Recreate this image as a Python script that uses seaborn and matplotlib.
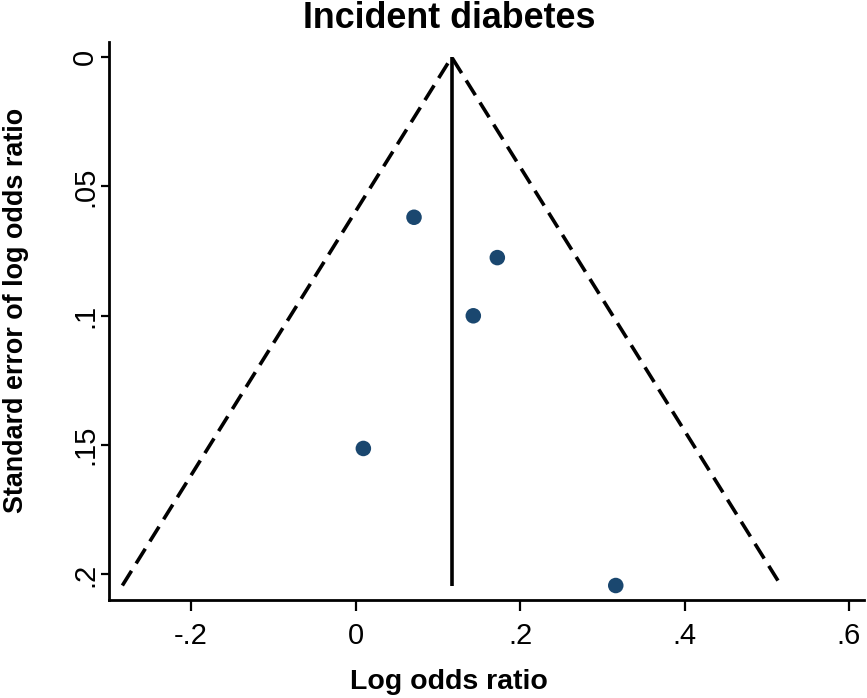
import numpy as np
import pandas as pd
import matplotlib
matplotlib.use("Agg")
import matplotlib.pyplot as plt
import seaborn as sns

# Study-level estimates
log_or = [0.0711, 0.1724, 0.1432, 0.0095, 0.3164]
se_log_or = [0.0619, 0.0775, 0.1000, 0.1513, 0.2043]

x_ticks = [-0.2, 0.0, 0.2, 0.4, 0.6]
x_tick_labels = ["-.2", "0", ".2", ".4", ".6"]
y_ticks = [0.0, 0.05, 0.10, 0.15, 0.20]
y_tick_labels = ["0", ".05", ".1", ".15", ".2"]

title = "Incident diabetes"
x_title = "Log odds ratio"
y_title = "Standard error of log odds ratio"

sns.set_style("ticks")
plt.rcParams["font.family"] = ["Liberation Sans", "DejaVu Sans"]
plt.rcParams["text.color"] = "black"
plt.rcParams["axes.labelcolor"] = "black"
plt.rcParams["xtick.color"] = "black"
plt.rcParams["ytick.color"] = "black"

df = pd.DataFrame({"logor": log_or, "se": se_log_or})

# Fixed-effect (inverse-variance) pooled estimate and pseudo 95% limits
w = 1.0 / df["se"] ** 2
pooled = float((w * df["logor"]).sum() / w.sum())
se_max = float(df["se"].max())

fig = plt.figure(figsize=(8.67, 6.98), dpi=100)
ax = fig.add_axes([0.1254, 0.1404, 0.8711, 0.7999])

ax.plot([pooled, pooled], [0, se_max], color="black", lw=2.6, solid_capstyle="butt")
ax.plot([pooled - 1.96 * se_max, pooled, pooled + 1.96 * se_max], [se_max, 0, se_max],
        color="black", lw=2.6, linestyle=(0, (4.8, 2.4)))

sns.scatterplot(data=df, x="logor", y="se", ax=ax, color="#1a476f", s=125,
                edgecolor="none", linewidth=0, zorder=3)

ax.set_xlim(-0.3001, 0.6182)
ax.set_ylim(0.2099, -0.0060)

ax.set_xticks(x_ticks)
ax.set_xticklabels(x_tick_labels, fontsize=21, color="black")
ax.set_yticks(y_ticks)
ax.set_yticklabels(y_tick_labels, fontsize=21, rotation=90, va="center", color="black")
ax.tick_params(axis="x", length=8, width=1.6, pad=8, colors="black")
ax.tick_params(axis="y", length=6, width=1.6, pad=1, colors="black")

for side in ["top", "right"]:
    ax.spines[side].set_visible(False)
for side in ["left", "bottom"]:
    ax.spines[side].set_linewidth(2.0)
    ax.spines[side].set_color("black")

ax.set_xlabel("")
ax.set_ylabel("")

fig.text(449 / 867, 1 - 28.3 / 698, title, ha="center", va="baseline",
         fontsize=25.8, fontweight="bold", color="black")
fig.text(449 / 867, 1 - 689.3 / 698, x_title, ha="center", va="baseline",
         fontsize=20.5, fontweight="bold", color="black")
fig.text(23 / 867, 0.5552, y_title, ha="center", va="baseline", rotation=90,
         rotation_mode="anchor", fontsize=19.4, fontweight="bold", color="black")

fig.savefig("out.png", dpi=100, facecolor="white")
